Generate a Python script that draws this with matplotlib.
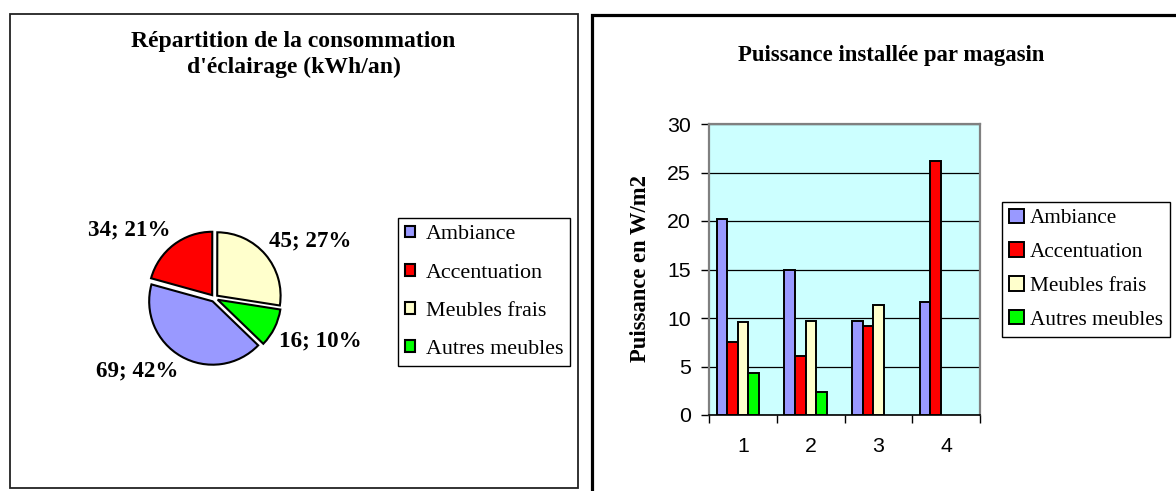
import matplotlib
matplotlib.use("Agg")
import matplotlib.pyplot as plt
from matplotlib.patches import Rectangle, Patch
import numpy as np

# data
categories = ["Ambiance", "Accentuation", "Meubles frais", "Autres meubles"]
colors = ["#9999FF", "#FF0000", "#FFFFCC", "#00FF00"]

pie_values = [69, 34, 45, 16]

magasins = [1, 2, 3, 4]
ambiance = [20.2, 14.9, 9.65, 11.6]
accentuation = [7.5, 6.1, 9.2, 26.2]
meubles_frais = [9.55, 9.7, 11.3, np.nan]
autres_meubles = [4.35, 2.35, np.nan, np.nan]

W, H = 1176, 491
SERIF = "Liberation Serif"
SANS = "Liberation Sans"


def fx(x):
    return x / W


def fy(y):
    return 1 - y / H


fig = plt.figure(figsize=(W / 100, H / 100), dpi=100)

# panel frames
fig.add_artist(Rectangle((fx(9.5), fy(487.5)), (577.5 - 9.5) / W, (487.5 - 14) / H,
                         transform=fig.transFigure, facecolor="white",
                         edgecolor="#222222", lw=1.3, zorder=-5))
fig.add_artist(Rectangle((fx(591.5), fy(520)), (1200 - 591.5) / W, (520 - 14.5) / H,
                         transform=fig.transFigure, facecolor="white",
                         edgecolor="black", lw=2.3, zorder=-5))

# ---------- pie ----------
R = 63.4
cx, cy = 214.4, 298.1
side = 2.5 * R
ax1 = fig.add_axes([fx(cx - side / 2), fy(cy + side / 2), side / W, side / H])
total = sum(pie_values)
labels = ["%d; %d%%" % (v, round(100 * v / total)) for v in pie_values]
wedges, texts = ax1.pie(pie_values, colors=colors, labels=labels,
                        startangle=-44, counterclock=False,
                        explode=[0.058] * 4, labeldistance=1.08,
                        wedgeprops=dict(edgecolor="black", linewidth=1.5),
                        textprops=dict(fontsize=16.6, fontweight="bold", family=SERIF))
for t in texts:
    t.set_va("bottom" if t.get_position()[1] > 0 else "top")
ax1.set_xlim(-1.25, 1.25)
ax1.set_ylim(-1.25, 1.25)
ax1.set_aspect("equal")

fig.text(fx(293.5), fy(47), "Répartition de la consommation", ha="center", va="baseline",
         fontsize=17, fontweight="bold", family=SERIF)
fig.text(fx(293.5), fy(72.5), "d'éclairage (kWh/an)", ha="center", va="baseline",
         fontsize=17, fontweight="bold", family=SERIF)

leg1 = fig.legend(wedges, categories, loc="upper left",
                  bbox_to_anchor=(fx(398.3), fy(218.3)), bbox_transform=fig.transFigure,
                  borderaxespad=0, fancybox=False, framealpha=1, edgecolor="black",
                  prop=dict(family=SERIF, size=15.8), borderpad=0.32,
                  handlelength=0.46, handleheight=0.46, handletextpad=0.46,
                  labelspacing=0.88)
leg1.get_frame().set_linewidth(1.0)

# ---------- bars ----------
ax2 = fig.add_axes([fx(709.3), fy(415), (980 - 709.3) / W, (415 - 124) / H])
ax2.set_facecolor("#CCFFFF")
series = [ambiance, accentuation, meubles_frais, autres_meubles]
w = 0.157
x = np.array(magasins, dtype=float)
handles = []
for j, (vals, col) in enumerate(zip(series, colors)):
    ax2.bar(x + (j - 2) * w, vals, width=w, color=col, edgecolor="black",
            linewidth=1.4, zorder=3)
    handles.append(Patch(facecolor=col, edgecolor="black", linewidth=1.4))

ax2.set_xlim(0.5, 4.5)
ax2.set_ylim(0, 30)
ax2.set_yticks(range(0, 31, 5))
ax2.yaxis.grid(True, color="black", linewidth=0.9, zorder=1)
ax2.set_axisbelow(True)
ax2.set_xticks([0.5, 1.5, 2.5, 3.5, 4.5])
ax2.set_xticklabels([])
ax2.set_xticks(magasins, minor=True)
ax2.set_xticklabels([str(m) for m in magasins], minor=True, family=SANS, fontsize=15.3)
ax2.tick_params(axis="x", which="major", length=5.5, width=1, direction="out")
ax2.tick_params(axis="x", which="minor", length=0, pad=16)
ax2.tick_params(axis="y", length=5.5, width=1, direction="out", labelsize=15.3, pad=8)
for lab in ax2.get_yticklabels():
    lab.set_family(SANS)
for s in ["left", "top", "right"]:
    ax2.spines[s].set_color("#808080")
    ax2.spines[s].set_linewidth(1.6)
ax2.spines["bottom"].set_color("black")
ax2.spines["bottom"].set_linewidth(1.2)

fig.text(fx(641), fy(268), "Puissance en W/m2", rotation=90, ha="center", va="center",
         fontsize=16.3, fontweight="bold", family=SERIF)
fig.text(fx(891), fy(61), "Puissance installée par magasin", ha="center", va="baseline",
         fontsize=16.4, fontweight="bold", family=SERIF)

leg2 = fig.legend(handles, categories, loc="upper left",
                  bbox_to_anchor=(fx(1002.3), fy(201.7)), bbox_transform=fig.transFigure,
                  borderaxespad=0, fancybox=False, framealpha=1, edgecolor="black",
                  prop=dict(family=SERIF, size=15.3), borderpad=0.33,
                  handlelength=0.67, handleheight=0.67, handletextpad=0.28,
                  labelspacing=0.66)
leg2.get_frame().set_linewidth(1.0)

fig.savefig("out.png", dpi=100)
